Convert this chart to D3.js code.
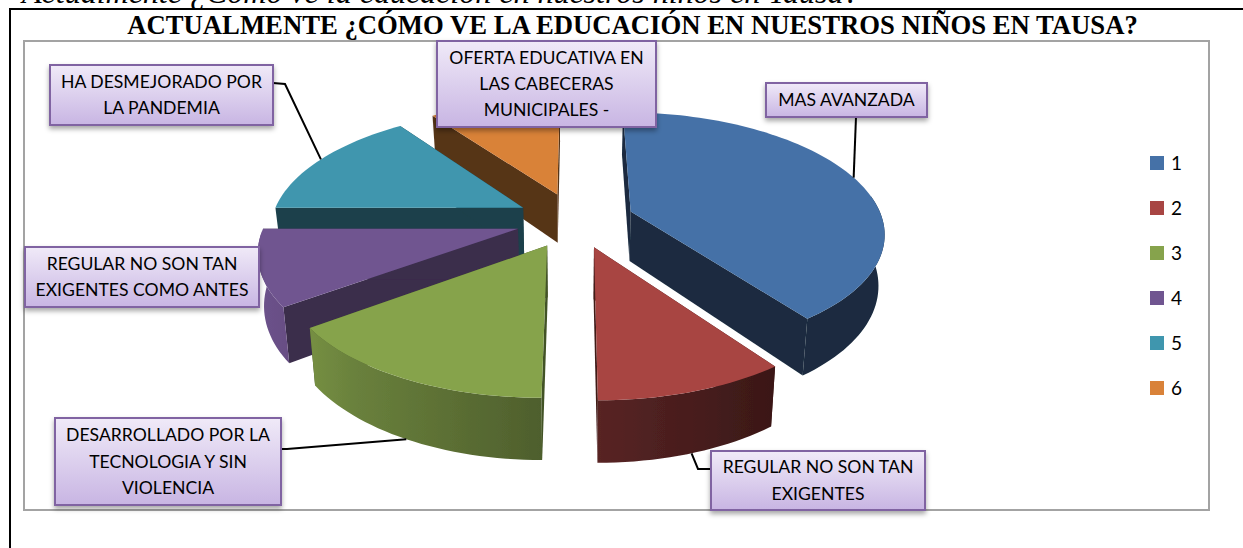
<!DOCTYPE html>
<html>

<head>
    <meta charset="utf-8">
    <script src="https://d3js.org/d3.v7.min.js"></script>
    <style>
        html, body { margin: 0; padding: 0; background: #fff; overflow: hidden; }
        svg { display: block; }
    </style>
</head>

<body>
    <script>
        // valores
        const categories = ["1", "2", "3", "4", "5", "6"];
        const values = [40, 10, 15, 10, 15, 10];
        const labels = [
            ["MAS AVANZADA"],
            ["REGULAR NO SON TAN", "EXIGENTES"],
            ["DESARROLLADO POR LA", "TECNOLOGIA Y SIN", "VIOLENCIA"],
            ["REGULAR NO SON TAN", "EXIGENTES COMO ANTES"],
            ["HA DESMEJORADO POR", "LA PANDEMIA"],
            ["OFERTA EDUCATIVA EN", "LAS CABECERAS", "MUNICIPALES -"]
        ];
        const colors = ["#4571a7", "#a84543", "#86a34c", "#705590", "#3f96ae", "#d98239"];
        const faceShade = [0.62, 0.62, 0.5, 0.47, 0.57, 0.6];

        const pageTitle = "Actualmente ¿Cómo ve la educación en nuestros niños en Tausa?";
        const chartTitle = "ACTUALMENTE ¿CÓMO VE LA EDUCACIÓN EN NUESTROS NIÑOS EN TAUSA?";

        // cajas de las etiquetas: x0, y0, x1, y1 y codo de la linea guia
        const boxes = [
            { box: [766, 83, 927, 117], elbow: [[856, 117]] },
            { box: [711, 451, 925, 510], elbow: [[710, 469], [698, 469]] },
            { box: [55, 418, 281, 505], elbow: [[281, 449], [287, 449]] },
            { box: [25, 247, 259, 307], elbow: null },
            { box: [50, 65, 273, 125], elbow: [[273, 83], [285, 84]] },
            { box: [437, 41, 656, 127], elbow: null }
        ];

        const width = 1243, height = 548;

        const svg = d3.select("body").append("svg")
            .attr("width", width)
            .attr("height", height)
            .style("background", "#fff");

        const defs = svg.append("defs");

        const blur = defs.append("filter").attr("id", "soft");
        blur.append("feGaussianBlur").attr("stdDeviation", 0.6);

        const shadow = defs.append("filter").attr("id", "shadow")
            .attr("x", "-10%").attr("y", "-20%").attr("width", "120%").attr("height", "150%");
        shadow.append("feDropShadow")
            .attr("dx", 0).attr("dy", 3).attr("stdDeviation", 2.5)
            .attr("flood-color", "#000").attr("flood-opacity", 0.35);

        const boxGrad = defs.append("linearGradient").attr("id", "boxGrad")
            .attr("x1", 0).attr("y1", 0).attr("x2", 0).attr("y2", 1);
        boxGrad.append("stop").attr("offset", "0%").attr("stop-color", "#f0eaf8");
        boxGrad.append("stop").attr("offset", "100%").attr("stop-color", "#c8b5e3");

        // marco del documento y del grafico
        svg.append("text")
            .attr("x", 22).attr("y", 3)
            .attr("font-family", "Liberation Serif")
            .attr("font-style", "italic")
            .attr("font-size", 32)
            .text(pageTitle);

        svg.append("path")
            .attr("d", "M1243,9H10V548")
            .attr("fill", "none")
            .attr("stroke", "#000")
            .attr("stroke-width", 2);

        svg.append("text")
            .attr("x", 632.5).attr("y", 33.5)
            .attr("text-anchor", "middle")
            .attr("font-family", "Liberation Serif")
            .attr("font-weight", "bold")
            .attr("font-size", 26.7)
            .text(chartTitle);

        svg.append("rect")
            .attr("x", 24).attr("y", 41)
            .attr("width", 1185).attr("height", 469)
            .attr("fill", "#fff")
            .attr("stroke", "#a3a3a3")
            .attr("stroke-width", 2);

        // proyeccion en perspectiva del plano de la torta
        const cx = 575, cy = 220, rx = 252, ry = 118, persp = 0.163;
        const explode = 0.235, depth = 50;

        function project(x, y, bottom) {
            const w = 1 + persp * y;
            const k = bottom ? 0.98 : 1;
            return [
                cx + rx * k * x / w,
                cy - ry * y / w + (bottom ? depth / w : 0)
            ];
        }

        const pie = d3.pie().sort(null).value(d => d);
        const arcs = pie(values);

        function planePoint(d, angle, r) {
            const mid = (d.startAngle + d.endAngle) / 2;
            return [
                explode * Math.sin(mid) + r * Math.sin(angle),
                explode * Math.cos(mid) + r * Math.cos(angle)
            ];
        }

        function rimAngles(d) {
            const n = Math.ceil((d.endAngle - d.startAngle) / 0.03);
            return d3.range(n + 1).map(i => d.startAngle + (d.endAngle - d.startAngle) * i / n);
        }

        const line = d3.line();

        // el lado curvo se oscurece de izquierda a derecha
        const shade = d3.scaleLinear().domain([255, 316, 545, 770]).range([0.02, 0.17, 0.42, 0.65]);

        arcs.forEach((d, i) => {
            const g = defs.append("linearGradient")
                .attr("id", "wall" + i)
                .attr("gradientUnits", "userSpaceOnUse")
                .attr("x1", 255).attr("y1", 0).attr("x2", 770).attr("y2", 0);
            d3.range(0, 1.01, 0.2).forEach(t => {
                g.append("stop")
                    .attr("offset", t)
                    .attr("stop-color", d3.interpolateRgb(colors[i], "#000")(shade(255 + 515 * t)));
            });
        });

        // orden de pintado: de atras hacia adelante
        const order = [5, 0, 4, 3, 2, 1];
        const pieG = svg.append("g").attr("filter", "url(#soft)");

        const slices = pieG.selectAll("g.slice")
            .data(order.map(i => ({ d: arcs[i], i: i })))
            .join("g")
            .attr("class", "slice");

        slices.each(function (s) {
            const g = d3.select(this);
            const d = s.d;
            const dark = d3.interpolateRgb(colors[s.i], "#000")(faceShade[s.i]);
            const center = planePoint(d, 0, 0);

            // caras de corte
            [d.startAngle, d.endAngle].forEach(a => {
                const p = planePoint(d, a, 1);
                g.append("path")
                    .attr("fill", dark)
                    .attr("d", line([
                        project(center[0], center[1], false),
                        project(p[0], p[1], false),
                        project(p[0], p[1], true),
                        project(center[0], center[1], true)
                    ]) + "Z");
            });

            const angles = rimAngles(d);
            const rimTop = angles.map(a => { const p = planePoint(d, a, 1); return project(p[0], p[1], false); });

            // lado curvo: solo la parte que mira al frente
            const front = angles.filter(a => Math.cos(a) < (Math.sin(a) > 0 ? 0.15 : -0.01));
            if (front.length > 1) {
                const wallTop = front.map(a => { const p = planePoint(d, a, 1); return project(p[0], p[1], false); });
                const wallBottom = front.map(a => { const p = planePoint(d, a, 1); return project(p[0], p[1], true); });
                g.append("path")
                    .attr("fill", s.i === 0 ? dark : "url(#wall" + s.i + ")")
                    .attr("d", line(wallTop.concat(wallBottom.slice().reverse())) + "Z");
            }

            // cara superior
            g.append("path")
                .attr("fill", colors[s.i])
                .attr("d", line([project(center[0], center[1], false)].concat(rimTop)) + "Z");
        });

        // lineas guia hasta el angulo medio de cada porcion
        boxes.forEach((b, i) => {
            if (!b.elbow) return;
            const d = arcs[i];
            const mid = (d.startAngle + d.endAngle) / 2;
            const p = planePoint(d, mid, 1);
            const tip = project(p[0], p[1], Math.cos(mid) < 0);
            svg.append("path")
                .attr("d", line(b.elbow.concat([tip])))
                .attr("fill", "none")
                .attr("stroke", "#000")
                .attr("stroke-width", 2);
        });

        // etiquetas
        const labelG = svg.selectAll("g.label")
            .data(labels)
            .join("g")
            .attr("class", "label");

        labelG.append("rect")
            .attr("x", (d, i) => boxes[i].box[0])
            .attr("y", (d, i) => boxes[i].box[1])
            .attr("width", (d, i) => boxes[i].box[2] - boxes[i].box[0])
            .attr("height", (d, i) => boxes[i].box[3] - boxes[i].box[1])
            .attr("fill", "url(#boxGrad)")
            .attr("stroke", "#8064a2")
            .attr("stroke-width", 2)
            .attr("filter", "url(#shadow)");

        labelG.each(function (lines, i) {
            const b = boxes[i].box;
            const mx = (b[0] + b[2]) / 2;
            const my = (b[1] + b[3]) / 2;
            d3.select(this).selectAll("text")
                .data(lines)
                .join("text")
                .attr("x", mx)
                .attr("y", (t, j) => my + (j - (lines.length - 1) / 2) * 26.3 + 6)
                .attr("text-anchor", "middle")
                .attr("font-family", "Lato")
                .attr("font-size", 17.6)
                .attr("fill", "#000")
                .text(t => t);
        });

        // leyenda
        const legendY = d3.scalePoint().domain(categories).range([163, 388]);

        const legend = svg.selectAll("g.legend")
            .data(categories)
            .join("g")
            .attr("class", "legend")
            .attr("transform", d => "translate(1150," + legendY(d) + ")");

        legend.append("rect")
            .attr("y", -7)
            .attr("width", 14).attr("height", 14)
            .attr("fill", (d, i) => colors[i]);

        legend.append("text")
            .attr("x", 21)
            .attr("y", 7)
            .attr("font-family", "Lato")
            .attr("font-size", 19)
            .attr("fill", "#000")
            .text(d => d);
    </script>
</body>

</html>
